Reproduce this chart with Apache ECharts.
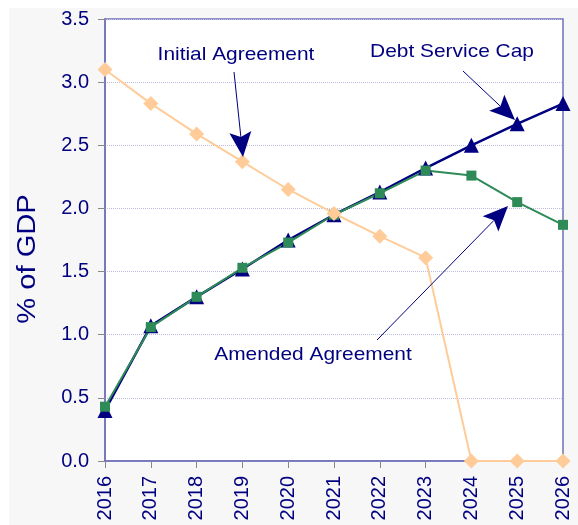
<!DOCTYPE html>
<html>
<head>
<meta charset="utf-8">
<script src="https://cdn.jsdelivr.net/npm/echarts@6/dist/echarts.min.js"></script>
<style>
  html, body { margin: 0; padding: 0; background: #fff; }
  #chart { width: 578px; height: 525px; }
</style>
</head>
<body>
<div id="chart"></div>
<script>
var years = ['2016', '2017', '2018', '2019', '2020', '2021', '2022', '2023', '2024', '2025', '2026'];
var yTicks = [0, 0.5, 1.0, 1.5, 2.0, 2.5, 3.0, 3.5];
var debtServiceCap = [0.40, 1.07, 1.30, 1.52, 1.75, 1.95, 2.13, 2.32, 2.50, 2.67, 2.83];
var amendedAgreement = [0.43, 1.06, 1.30, 1.53, 1.73, 1.95, 2.12, 2.30, 2.26, 2.05, 1.87];
var initialAgreement = [3.10, 2.83, 2.59, 2.37, 2.15, 1.96, 1.78, 1.61, 0, 0, 0];

var navy = '#000080';
var font = 'Arial, "Liberation Sans", sans-serif';

// arrow annotation: thin line with a big filled head
function arrow(x1, y1, x2, y2) {
    var dx = x2 - x1, dy = y2 - y1;
    var len = Math.sqrt(dx * dx + dy * dy);
    var ux = dx / len, uy = dy / len;
    var hl = 25, hw = 11;
    var bx = x2 - ux * hl, by = y2 - uy * hl;
    var nx = x2 - ux * hl * 0.8, ny = y2 - uy * hl * 0.8;
    return [{
        type: 'line',
        shape: { x1: x1, y1: y1, x2: nx, y2: ny },
        style: { stroke: navy, lineWidth: 1 },
        z: 100
    }, {
        type: 'polygon',
        shape: { points: [[x2, y2], [bx - uy * hw, by + ux * hw], [nx, ny], [bx + uy * hw, by - ux * hw]] },
        style: { fill: navy },
        z: 100
    }];
}

function label(text, x, y) {
    return {
        type: 'text', x: x, y: y, z: 100, scaleX: 1.1,
        style: { text: text, fill: navy, font: '19px ' + font, textAlign: 'center', textVerticalAlign: 'middle' }
    };
}

var chart = echarts.init(document.getElementById('chart'));

var graphics = [{
    type: 'rect', z: -10, silent: true,
    shape: { x: 9, y: 8, width: 569, height: 517 },
    style: { fill: '#f7f7f7' }
}, {
    type: 'text', x: 28, y: 259, rotation: Math.PI / 2, z: 100, scaleX: 1.12,
    style: { text: '% of GDP', fill: navy, font: '26px ' + font, textAlign: 'center', textVerticalAlign: 'middle' }
},
label('Initial Agreement', 236, 55),
label('Debt Service Cap', 452, 52),
label('Amended Agreement', 313, 355)]
    .concat(arrow(234, 72, 243, 157))
    .concat(arrow(463, 71, 515, 120))
    .concat(arrow(377, 340, 508, 206));

chart.setOption({
    backgroundColor: '#ffffff',
    animation: false,
    graphic: graphics,
    grid: {
        left: 105, right: 15, top: 19, bottom: 64,
        show: true, backgroundColor: '#ffffff', borderColor: '#7070b8', borderWidth: 1.5
    },
    xAxis: {
        type: 'category',
        data: years,
        boundaryGap: false,
        axisLine: { lineStyle: { color: '#7070b8', width: 1.5 } },
        axisTick: { show: true, length: 7, lineStyle: { color: '#888888' } },
        axisLabel: { rotate: 90, color: navy, fontSize: 20, fontFamily: font, margin: 15 },
        splitLine: { show: false }
    },
    yAxis: {
        type: 'value',
        min: yTicks[0],
        max: yTicks[yTicks.length - 1],
        interval: 0.5,
        axisLine: { show: true, lineStyle: { color: '#7070b8', width: 1.5 } },
        axisTick: { show: true, length: 7, lineStyle: { color: '#888888' } },
        axisLabel: { color: navy, fontSize: 20, fontFamily: font, margin: 16, formatter: function (v) { return v.toFixed(1); } },
        splitLine: { show: true, lineStyle: { color: '#bcbce6', type: 'dotted', width: 1 } }
    },
    series: [{
        name: 'Debt Service Cap',
        type: 'line',
        data: debtServiceCap,
        symbol: 'triangle',
        symbolSize: 15,
        lineStyle: { color: navy, width: 2.5 },
        itemStyle: { color: navy }
    }, {
        name: 'Amended Agreement',
        type: 'line',
        data: amendedAgreement,
        symbol: 'rect',
        symbolSize: 10,
        lineStyle: { color: '#2e8b57', width: 2 },
        itemStyle: { color: '#2e8b57' }
    }, {
        name: 'Initial Agreement',
        type: 'line',
        data: initialAgreement,
        symbol: 'diamond',
        symbolSize: 15,
        lineStyle: { color: '#ffcc99', width: 2 },
        itemStyle: { color: '#ffcc99' }
    }]
});
</script>
</body>
</html>
